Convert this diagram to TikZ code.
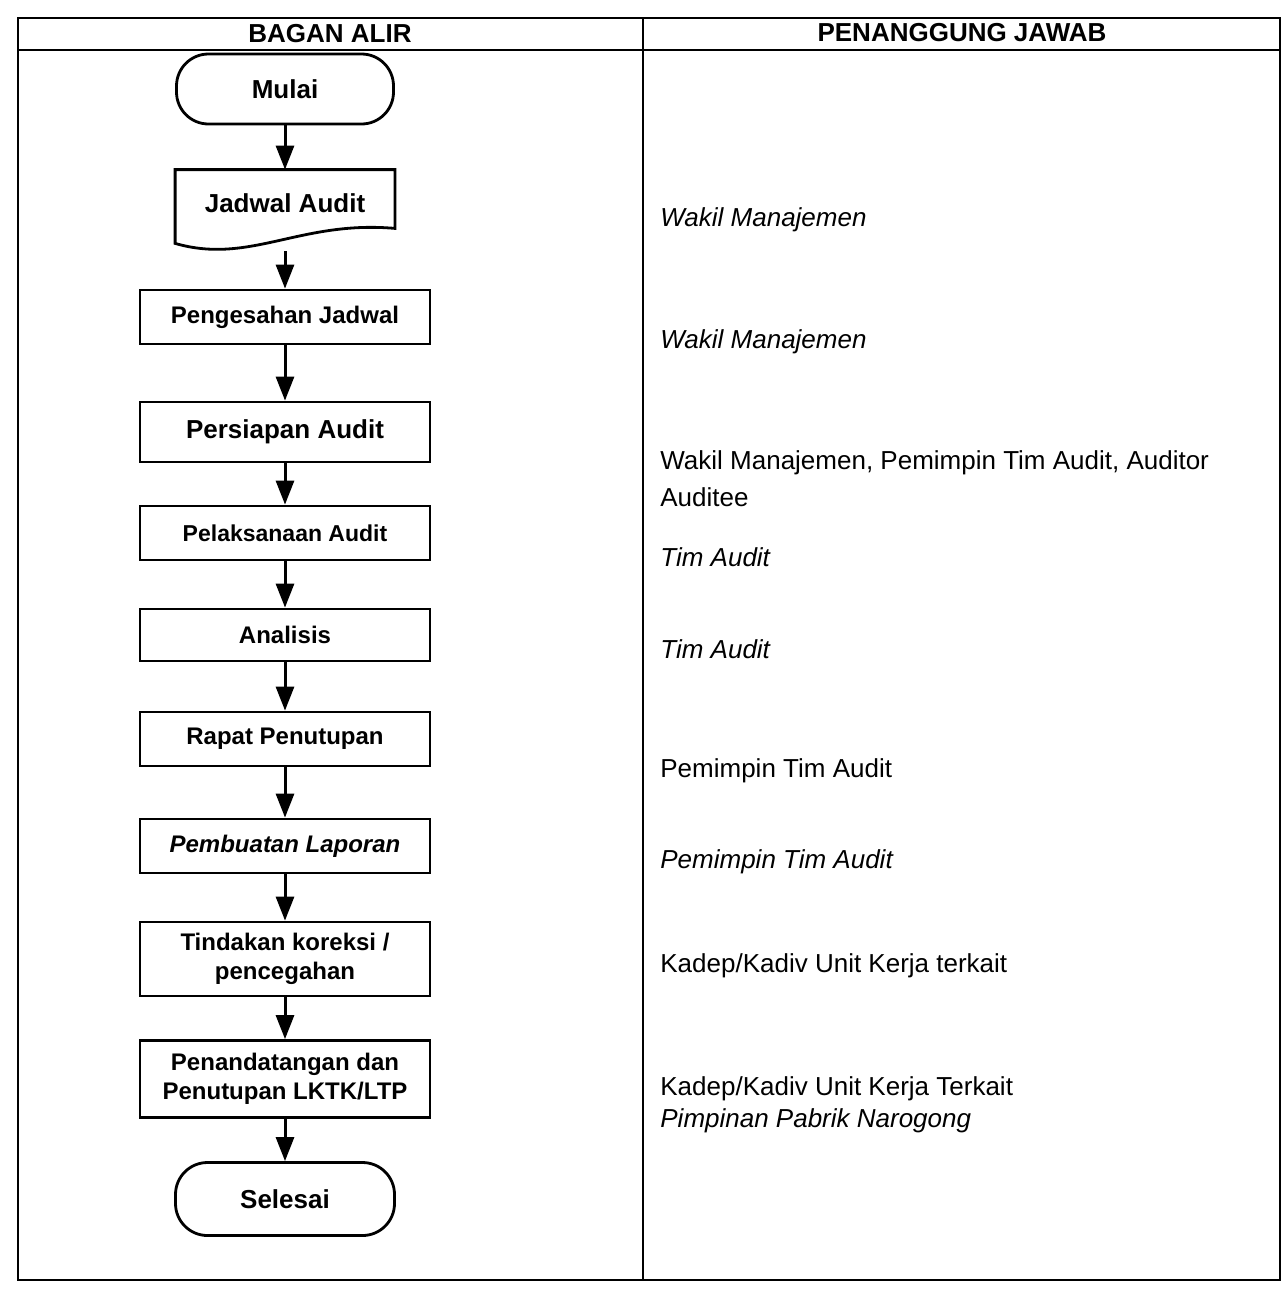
\documentclass[tikz,border=0pt]{standalone}
\usepackage{fontspec}
\setmainfont{Liberation Sans}
\usetikzlibrary{arrows.meta}
\begin{document}
\begin{tikzpicture}[x=0.5pt,y=-0.5pt,
  frame/.style={line width=1.1pt},
  box/.style={draw,line width=1.4pt,minimum width=145pt,align=center,inner sep=2pt,
    font=\bfseries\fontsize{12}{14.5}\selectfont},
  term/.style={draw,line width=1.4pt,rounded corners=16pt,minimum width=108.5pt,
    minimum height=35pt,font=\bfseries\fontsize{13}{15}\selectfont},
  hdr/.style={font=\bfseries\fontsize{13}{15}\selectfont,inner sep=0pt},
  resp/.style={anchor=west,align=left,inner sep=0pt,font=\fontsize{13}{16}\selectfont},
  flow/.style={-{Triangle[length=12pt,width=9pt]},line width=1.5pt}]
\useasboundingbox (0,0) rectangle (1285,1291);

% table frame
\draw[frame] (18,18) rectangle (1280,1280);
\draw[frame] (18,50) -- (1280,50);
\draw[frame] (643,18) -- (643,1280);
\node[hdr] (h1) at (330,34) {BAGAN ALIR};
\node[hdr] (h2) at (962,33) {PENANGGUNG JAWAB};

% flow nodes
\node[term] (mulai) at (285,89) {Mulai};
\node[minimum width=109.5pt,minimum height=36.5pt,inner sep=0pt,
  font=\bfseries\fontsize{13}{15}\selectfont] (jad) at (285,206.5) {\raisebox{3.5pt}{Jadwal Audit}};
\draw[line width=1.4pt] (jad.south west) -- (jad.north west) -- (jad.north east)
  -- ([yshift=7.5pt]jad.south east) .. controls (300,220) and (250,265) .. (jad.south west) -- cycle;
\node[box,minimum height=27pt] (peng) at (285,317) {Pengesahan Jadwal};
\node[box,minimum height=30pt,font=\bfseries\fontsize{13}{15}\selectfont] (pers) at (285,432) {Persiapan Audit};
\node[box,minimum height=27pt,font=\bfseries\fontsize{11.5}{14}\selectfont] (pel) at (285,533) {Pelaksanaan Audit};
\node[box,minimum height=26pt] (ana) at (285,635) {Analisis};
\node[box,minimum height=27pt] (rapat) at (285,739) {Rapat Penutupan};
\node[box,minimum height=27pt,font=\bfseries\itshape\fontsize{12}{14.5}\selectfont] (lap) at (285,846) {Pembuatan Laporan};
\node[box,minimum height=37pt] (tind) at (285,959) {Tindakan koreksi /\\pencegahan};
\node[box,minimum height=38.5pt] (tanda) at (285,1079) {Penandatangan dan\\Penutupan LKTK/LTP};
\node[term,minimum width=109.5pt,minimum height=36.5pt] (sel) at (285,1199) {Selesai};

% connectors
\draw[flow] (mulai) -- (jad);
\draw[flow,shorten <=4pt] (jad.south) -- (peng.north);
\draw[flow] (peng) -- (pers);
\draw[flow] (pers) -- (pel);
\draw[flow] (pel) -- (ana);
\draw[flow] (ana) -- (rapat);
\draw[flow] (rapat) -- (lap);
\draw[flow] (lap) -- (tind);
\draw[flow] (tind) -- (tanda);
\draw[flow] (tanda) -- (sel);

% responsibilities
\node[resp,font=\itshape\fontsize{13}{16}\selectfont] (r1) at (660,220) {Wakil Manajemen};
\node[resp,font=\itshape\fontsize{13}{16}\selectfont] (r2) at (660,342) {Wakil Manajemen};
\node[resp,font=\fontsize{13}{18.5}\selectfont] (r3) at (660,479) {Wakil Manajemen, Pemimpin Tim Audit, Auditor\\Auditee};
\node[resp,font=\itshape\fontsize{13}{16}\selectfont] (r4) at (660,557) {Tim Audit};
\node[resp,font=\itshape\fontsize{13}{16}\selectfont] (r5) at (660,649) {Tim Audit};
\node[resp] (r6) at (660,771) {Pemimpin Tim Audit};
\node[resp,font=\itshape\fontsize{13}{16}\selectfont] (r7) at (660,862) {Pemimpin Tim Audit};
\node[resp] (r8) at (660,966) {Kadep/Kadiv Unit Kerja terkait};
\node[resp] (r9) at (660,1105) {Kadep/Kadiv Unit Kerja Terkait\\\textit{Pimpinan Pabrik Narogong}};
\end{tikzpicture}
\end{document}
